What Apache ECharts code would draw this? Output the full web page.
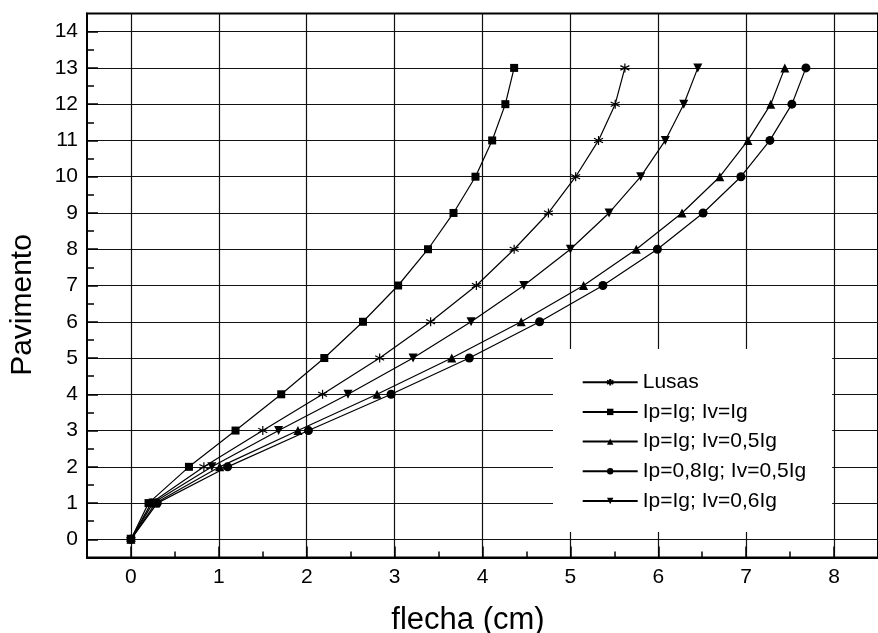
<!DOCTYPE html>
<html>
<head>
<meta charset="utf-8">
<script src="https://cdn.jsdelivr.net/npm/echarts@6/dist/echarts.min.js"></script>
<style>
  html, body { margin: 0; padding: 0; background: #fff; }
  #chart { width: 878px; height: 633px; }
</style>
</head>
<body>
<div id="chart"></div>
<script>
// Floor numbers (y) and deflection in cm (x) for each stiffness hypothesis
const pavimentos = [0, 1, 2, 3, 4, 5, 6, 7, 8, 9, 10, 11, 12, 13];
const lusas      = [0, 0.23, 0.83, 1.50, 2.18, 2.83, 3.41, 3.93, 4.36, 4.75, 5.06, 5.32, 5.51, 5.62];
const ipIgIvIg   = [0, 0.20, 0.66, 1.19, 1.71, 2.20, 2.64, 3.04, 3.38, 3.67, 3.92, 4.11, 4.26, 4.36];
const ipIgIv05   = [0, 0.28, 1.01, 1.90, 2.80, 3.65, 4.44, 5.15, 5.75, 6.27, 6.70, 7.02, 7.28, 7.44];
const ip08Iv05   = [0, 0.30, 1.10, 2.02, 2.96, 3.85, 4.65, 5.37, 5.99, 6.51, 6.94, 7.27, 7.52, 7.68];
const ipIgIv06   = [0, 0.25, 0.92, 1.68, 2.47, 3.21, 3.87, 4.47, 5.00, 5.44, 5.80, 6.08, 6.29, 6.45];

const seriesNames = ['Lusas', 'Ip=Ig; Iv=Ig', 'Ip=Ig; Iv=0,5Ig', 'Ip=0,8Ig; Iv=0,5Ig', 'Ip=Ig; Iv=0,6Ig'];

// Tick positions
const xTicks = [0, 1, 2, 3, 4, 5, 6, 7, 8];
const xMinorTicks = [0.5, 1.5, 2.5, 3.5, 4.5, 5.5, 6.5, 7.5];
const yTicks = [0, 1, 2, 3, 4, 5, 6, 7, 8, 9, 10, 11, 12, 13, 14];
const yMinorTicks = [0.5, 1.5, 2.5, 3.5, 4.5, 5.5, 6.5, 7.5, 8.5, 9.5, 10.5, 11.5, 12.5, 13.5];

const FONT = "'Liberation Sans', Arial, sans-serif";
const asterisk = 'path://M0,-1L0,1M-0.87,-0.5L0.87,0.5M-0.87,0.5L0.87,-0.5';

function pairs(xs) {
  return xs.map((x, i) => [x, pavimentos[i]]);
}

function lineSeries(name, xs, symbol, size, extra) {
  return Object.assign({
    name: name,
    type: 'line',
    data: pairs(xs),
    symbol: symbol,
    symbolSize: size,
    showAllSymbol: true,
    lineStyle: { color: '#000', width: 1.2 },
    itemStyle: { color: '#000', borderColor: '#000', borderWidth: 0 },
    emphasis: { disabled: true },
    animation: false,
    z: 3
  }, extra || {});
}

const chart = echarts.init(document.getElementById('chart'), null, { renderer: 'canvas' });

chart.setOption({
  backgroundColor: '#fff',
  animation: false,
  grid: {
    left: 87, top: 13.5, right: -11.3, bottom: 75.5,
    show: true, borderColor: '#000', borderWidth: 2, backgroundColor: 'transparent'
  },
  xAxis: [
    {
      type: 'value', min: -0.5, max: 8.5, position: 'bottom',
      axisLine: { show: true, onZero: false, lineStyle: { color: '#000', width: 2 } },
      axisTick: { show: true, inside: true, length: 11, customValues: xTicks, lineStyle: { color: '#000', width: 1.5 } },
      axisLabel: { customValues: xTicks, color: '#000', fontSize: 21, fontFamily: FONT, margin: 9 },
      splitLine: { show: true, lineStyle: { color: '#111', width: 1.2 } }
    },
    {
      type: 'value', min: -0.5, max: 8.5, position: 'bottom',
      axisLine: { show: false, onZero: false },
      axisTick: { show: true, inside: true, length: 6, customValues: xMinorTicks, lineStyle: { color: '#000', width: 1.5 } },
      axisLabel: { show: false },
      splitLine: { show: false }
    }
  ],
  yAxis: [
    {
      type: 'value', min: -0.5, max: 14.5, position: 'left',
      axisLine: { show: true, onZero: false, lineStyle: { color: '#000', width: 2 } },
      axisTick: { show: true, inside: true, length: 11, customValues: yTicks, lineStyle: { color: '#000', width: 1.5 } },
      axisLabel: { customValues: yTicks, color: '#000', fontSize: 21, fontFamily: FONT, margin: 9 },
      splitLine: { show: true, lineStyle: { color: '#111', width: 1.2 } }
    },
    {
      type: 'value', min: -0.5, max: 14.5, position: 'left',
      axisLine: { show: false, onZero: false },
      axisTick: { show: true, inside: true, length: 7, customValues: yMinorTicks, lineStyle: { color: '#000', width: 1.5 } },
      axisLabel: { show: false },
      splitLine: { show: false }
    }
  ],
  legend: {
    left: 553, top: 349,
    orient: 'vertical',
    data: seriesNames,
    backgroundColor: '#fff',
    padding: [22.7, 26, 20.5, 28.7],
    itemWidth: 55, itemHeight: 8, itemGap: 8.7,
    textStyle: { color: '#000', fontSize: 21, fontFamily: FONT, lineHeight: 20 },
    selectedMode: false
  },
  graphic: [
    {
      type: 'text', x: 468, y: 620,
      style: { text: 'flecha (cm)', fill: '#000', font: '31px ' + FONT, textAlign: 'center', textVerticalAlign: 'middle' }
    },
    {
      type: 'text', x: 22.5, y: 305, rotation: Math.PI / 2,
      style: { text: 'Pavimento', fill: '#000', font: '30px ' + FONT, textAlign: 'center', textVerticalAlign: 'middle' }
    }
  ],
  series: [
    lineSeries(seriesNames[0], lusas, asterisk, 9, { itemStyle: { color: '#000', borderColor: '#000', borderWidth: 1.2 } }),
    lineSeries(seriesNames[1], ipIgIvIg, 'rect', 8),
    lineSeries(seriesNames[2], ipIgIv05, 'triangle', 9),
    lineSeries(seriesNames[3], ip08Iv05, 'circle', 9),
    lineSeries(seriesNames[4], ipIgIv06, 'triangle', 9, { symbolRotate: 180 })
  ]
});
</script>
</body>
</html>
